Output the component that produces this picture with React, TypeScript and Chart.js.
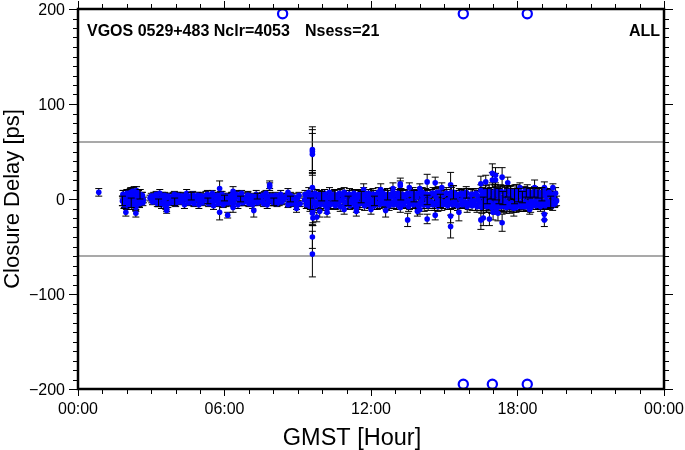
import React, { useEffect, useRef } from "react";
import { Chart, registerables } from "chart.js";

Chart.register(...registerables);

const FONT = "'Liberation Sans', Arial, sans-serif";

const bandHours = [
  1.82,1.86,1.9,1.94,1.98,2.02,2.06,2.1,2.14,2.18,2.22,2.26,2.3,2.34,2.38,2.42,2.46,2.5,2.54,2.58,2.62,2.68,
  2.95,3.02,3.1,3.18,3.24,3.3,3.38,3.46,3.52,3.6,3.68,3.74,3.82,3.9,3.96,4.04,4.12,4.2,4.26,4.34,4.42,4.5,4.56,4.64,4.72,4.8,4.86,4.94,5.02,5.1,5.16,5.24,5.32,5.4,5.46,5.54,5.62,5.7,5.76,5.84,5.92,6.0,6.06,6.14,6.22,6.3,6.36,6.44,6.52,6.6,6.66,6.74,6.82,6.9,6.96,7.04,7.12,7.2,7.26,7.34,7.42,7.5,7.56,7.64,7.72,7.8,7.86,7.94,8.02,8.1,8.16,8.24,8.32,8.4,8.46,8.54,8.62,8.7,8.76,8.84,8.92,9.0,
  9.28,9.34,9.4,9.46,9.52,9.58,9.62,9.66,9.7,9.76,9.82,9.88,9.92,9.98,10.04,10.1,10.16,10.22,10.28,10.34,10.4,10.46,10.52,10.58,10.64,10.7,10.76,10.82,10.88,10.94,11.0,11.06,11.12,11.18,11.24,11.3,11.36,11.42,11.48,11.54,11.6,11.66,11.72,11.78,11.84,11.9,11.96,12.02,12.08,12.14,12.2,12.26,12.32,12.38,12.44,12.5,12.56,12.62,12.68,12.74,12.8,12.86,12.92,12.98,13.04,13.1,13.16,13.22,13.28,13.34,13.4,13.46,13.52,13.58,13.64,13.7,13.76,13.82,13.88,13.94,14.0,14.06,14.12,14.18,14.24,14.3,14.36,14.42,14.48,14.54,14.6,14.66,14.72,14.78,14.84,14.9,14.96,15.02,15.08,15.14,15.2,15.26,15.32,15.38,15.44,15.5,15.56,15.62,15.68,15.74,15.8,15.86,15.92,15.98,16.04,16.1,16.16,16.22,16.28,16.34,16.4,16.46,16.52,16.56,16.6,16.64,16.68,16.72,16.76,16.8,16.84,16.88,16.92,16.96,17.0,17.04,17.08,17.12,17.16,17.2,17.24,17.28,17.32,17.36,17.4,17.44,17.48,17.52,17.56,17.6,17.64,17.68,17.72,17.76,17.8,17.84,17.88,17.92,17.96,18.0,18.04,18.08,18.12,18.16,18.2,18.24,18.28,18.32,18.36,18.4,18.44,18.48,18.52,18.56,18.6,18.64,18.68,18.72,18.76,18.8,18.84,18.88,18.92,18.96,19.0,19.04,19.08,19.12,19.16,19.2,19.24,19.28,19.32,19.36,19.4,19.44,19.48,19.52,19.56,19.6
];

const bandDelays = [
  -2,3,-4,1,-5,4,-3,2,5,-4,1,-5,6,-2,4,-4,3,-3,5,-2,3,-1,
  1,-1,3,-2,1,-4,0,3,-3,1,-5,2,-1,3,-3,1,-1,3,-2,0,2,-2,1,3,-3,0,2,-1,3,-2,1,4,-2,0,2,-3,3,-1,1,4,-2,1,-4,2,-1,3,-2,1,4,-3,0,2,-3,1,4,-1,2,-3,1,3,-2,2,-3,4,1,-2,3,-1,-3,2,0,-3,2,-1,1,3,-4,0,-2,2,-3,1,
  -1,2,-4,1,-5,4,-3,2,-4,5,-3,1,-5,3,-1,4,-3,2,-5,1,3,-2,4,-4,1,-3,5,-1,2,-4,3,-2,5,-3,1,-4,3,-1,4,-5,2,-2,4,-1,-4,3,0,-3,5,-2,2,-5,3,-1,4,-3,1,-5,5,-2,2,-4,4,-1,-5,3,-2,5,-4,1,-3,4,-2,-5,5,-1,3,-4,2,-5,6,-2,3,-6,5,-1,-4,4,-3,6,-5,2,-3,7,-2,-6,4,-3,6,-1,-5,3,-4,7,-3,2,-6,5,-1,-4,3,-3,6,-5,1,-3,5,-2,-6,4,-1,-4,3,6,-5,-2,
  5,-7,3,-5,8,-3,6,-8,2,-6,7,-2,5,-8,3,-6,9,-4,1,-7,6,-3,8,-5,2,-8,7,-4,5,-7,3,-6,8,-2,4,-7,6,-4,2,-8,5,-3,7,-6,3,-5,6,-2,4,-6,7,-3,2,-5,6,-4,1,-6,5,-3,7,-5,3,-2,6,-6,4,-3,5,-7,2,-4,6,-2,5,-5,3,-1,-5,4,-3,3,-2,5,-4,1,4,-3,1,-2,3
];

const bandErrors = [
  5,6,5,4,6,5,5,4,6,5,4,6,7,5,6,5,4,5,5,4,4,3,
  3,3,4,3,3,4,3,4,3,3,4,4,3,4,4,3,3,4,3,3,4,3,3,4,4,3,3,3,4,3,3,4,3,3,3,4,4,3,3,4,4,3,4,4,3,4,3,3,4,4,3,4,4,3,4,3,3,4,3,3,3,4,3,4,3,3,4,4,4,3,3,4,3,4,3,3,4,3,3,4,4,3,
  4,4,5,5,6,7,7,6,6,5,6,5,6,5,5,6,5,4,6,5,5,5,6,6,5,5,6,5,4,6,6,5,6,6,5,6,6,5,6,6,6,5,6,5,5,5,4,5,6,5,5,6,6,5,5,5,4,6,6,5,5,6,6,5,6,5,5,6,6,5,6,6,5,6,5,6,6,5,5,6,6,5,6,7,6,5,6,6,5,6,7,6,5,6,7,6,6,5,6,5,6,5,6,7,6,5,6,6,6,5,6,5,5,6,6,5,6,5,6,5,5,6,7,6,
  7,8,6,7,8,7,7,8,6,7,8,7,8,8,7,7,8,7,6,8,7,7,8,7,6,8,8,7,7,7,6,7,8,6,7,7,7,6,5,7,6,5,7,7,5,6,6,5,5,6,7,5,5,5,7,6,5,6,6,5,7,6,5,5,6,6,5,5,6,6,6,5,6,5,6,5,4,6,5,4,5,5,4,5,5,4,4,4,3,3,3
];

const upperHours = [1.84,2.0,2.16,2.32,2.48,2.64,3.0,3.2,3.35,3.55,3.7,3.95,4.1,4.3,4.45,4.7,4.9,5.05,5.3,5.5,5.7,5.9,6.1,6.3,6.5,6.7,6.95,7.1,7.3,7.55,7.7,7.95,8.1,8.3,8.55,8.7,9.05,9.3,9.45,9.7,9.9,10.1,10.3,10.5,10.7,10.9,11.1,11.3,11.5,11.7,11.9,12.1,12.3,12.5,12.7,12.9,13.1,13.3,13.5,13.7,13.9,14.1,14.3,14.5,14.7,14.9,15.1,15.3,15.5,15.7,15.9,16.1,16.3,16.5,16.7,16.9,17.1,17.3,17.5,17.7,17.9,18.1,18.3,18.5,18.7,18.9,19.1,19.3,19.5];
const upperDelays = [5,6,7,6,5,4,3,5,6,4,3,5,4,3,6,5,4,3,5,6,4,5,3,4,5,6,4,3,5,4,6,3,4,5,3,4,4,5,7,6,5,6,7,5,6,7,5,6,5,7,6,5,7,6,5,7,6,5,6,7,6,7,5,6,7,5,6,7,5,6,7,5,6,9,8,7,9,8,7,8,9,7,8,7,8,7,6,7,5];
const upperErrors = [4,4,5,4,4,3,3,3,4,3,3,3,3,3,4,3,3,3,4,3,3,3,3,3,4,3,3,3,4,3,3,3,3,4,3,3,3,4,5,4,4,4,5,4,4,5,4,4,4,5,4,4,5,4,4,5,4,4,4,5,4,5,4,4,5,4,4,5,4,4,6,5,5,6,6,5,6,6,5,5,6,5,5,5,5,5,4,4,3];

const lowerHours = [1.88,2.04,2.2,2.36,2.52,2.66,3.05,3.25,3.42,3.6,3.8,4.0,4.18,4.36,4.55,4.75,4.95,5.12,5.35,5.55,5.75,5.95,6.18,6.35,6.55,6.75,7.0,7.15,7.35,7.6,7.75,8.0,8.15,8.35,8.6,8.75,9.1,9.35,9.5,9.74,9.94,10.14,10.34,10.54,10.74,10.94,11.14,11.34,11.54,11.74,11.94,12.14,12.34,12.54,12.74,12.94,13.14,13.34,13.54,13.74,13.94,14.14,14.34,14.54,14.74,14.94,15.14,15.34,15.54,15.74,15.94,16.14,16.34,16.54,16.74,16.94,17.14,17.34,17.54,17.74,17.94,18.14,18.34,18.54,18.74,18.94,19.14,19.34,19.54];
const lowerDelays = [-6,-7,-6,-7,-5,-4,-3,-5,-6,-7,-4,-5,-3,-6,-4,-5,-6,-4,-5,-7,-5,-6,-4,-5,-6,-4,-5,-6,-4,-5,-6,-4,-5,-3,-6,-5,-5,-6,-8,-7,-6,-7,-6,-7,-8,-6,-7,-6,-5,-7,-6,-7,-6,-5,-7,-6,-7,-6,-8,-6,-7,-6,-7,-6,-8,-6,-7,-6,-7,-6,-8,-7,-8,-9,-8,-9,-10,-8,-9,-8,-9,-8,-8,-9,-7,-8,-7,-6,-5];
const lowerErrors = [4,4,5,5,4,3,3,3,4,4,3,3,3,4,3,3,4,3,3,4,3,3,3,3,4,3,3,4,3,3,4,3,3,3,3,3,3,4,5,5,4,5,4,4,5,4,4,4,4,5,4,4,4,4,5,4,4,4,5,4,4,4,5,4,5,4,4,4,5,4,6,5,6,6,6,6,6,5,6,5,5,5,5,5,4,5,4,4,3];

const wideHours = [0.85,1.96,2.37,2.37,2.4,2.25,3.63,3.63,5.8,5.8,6.13,6.35,6.35,7.85,7.85,8.6,8.95,8.95,7.2,9.6,9.6,9.6,9.6,9.6,9.6,9.6,9.62,9.62,9.78,9.9,10.2,10.2,10.9,11.4,11.4,12.0,12.4,12.6,13.2,13.2,13.2,13.5,13.57,14.0,14.0,14.3,14.3,14.63,14.63,14.9,15.26,15.26,15.26,15.6,16.5,16.5,16.7,16.6,16.85,16.97,16.97,17.0,17.1,17.1,17.2,17.37,17.37,17.6,17.85,18.1,18.4,18.5,18.7,19.1,19.1,19.1,19.45,11.7,12.9,13.9];
const wideDelays = [7,-14,-15,-9,9,8,-12,-10,11,-14,-17,8,-9,15,13,7,-10,-7,-12,52,50,47,12,-40,-58,-15,-12,-20,-19,-13,-14,-10,-11,-13,-9,-11,10,-12,16,14,-9,-22,12,11,-11,18,-21,17,-17,12,15,-29,-18,-14,16,-22,18,-20,-21,27,20,-14,25,20,-15,23,-25,17,-10,12,10,-11,12,12,-16,-22,12,10,11,-13];
const wideErrors = [4,4,4,4,4,4,3,3,8,8,3,5,5,4,4,4,4,4,7,24,23,22,18,12,24,12,13,8,5,6,5,5,5,5,5,5,6,7,6,5,5,7,5,5,5,8,5,6,5,5,13,12,7,9,8,10,7,8,7,10,8,8,8,7,8,10,9,6,8,5,5,5,8,6,6,7,4,6,6,5];

const outlierHours = [8.38,15.78,18.4,15.78,16.97,18.4];
const outlierDelays = [195,195,195,-195,-195,-195];

const limitDelays = [60,-60];
const xMajor = [0,6,12,18,24];
const yMajor = [200,100,0,-100,-200];
const tickHours = [1,2,3,4,5,7,8,9,10,11,13,14,15,16,17,19,20,21,22,23];
const tickDelays = [190,180,170,160,150,140,130,120,110,90,80,70,60,50,40,30,20,10,-10,-20,-30,-40,-50,-60,-70,-80,-90,-110,-120,-130,-140,-150,-160,-170,-180,-190];

const hourLabel = (v: number) => String(v % 24).padStart(2, "0") + ":00";

const mkPts = (xs: number[], ys: number[]) => xs.map((x, i) => ({ x, y: ys[i] }));

const drawBars = (chart: any, xs: number[], ys: number[], es: number[], keep: (h: number, i: number) => boolean) => {
  const { ctx, scales } = chart;
  const x = scales.x, y = scales.y;
  xs.forEach((h, i) => {
    if (!keep(h, i)) return;
    const px = x.getPixelForValue(h);
    const top = y.getPixelForValue(ys[i] + es[i]);
    const bot = y.getPixelForValue(ys[i] - es[i]);
    ctx.beginPath();
    ctx.moveTo(px, top); ctx.lineTo(px, bot);
    ctx.moveTo(px - 3.5, top); ctx.lineTo(px + 3.5, top);
    ctx.moveTo(px - 3.5, bot); ctx.lineTo(px + 3.5, bot);
    ctx.stroke();
  });
};

const errorPlugin = {
  id: "marks",
  beforeDatasetsDraw(chart: any) {
    const { ctx } = chart;
    ctx.save();
    ctx.strokeStyle = "#000";
    ctx.lineWidth = 1;
    const all = () => true;
    drawBars(chart, bandHours, bandDelays, bandErrors, all);
    drawBars(chart, upperHours, upperDelays, upperErrors, all);
    drawBars(chart, lowerHours, lowerDelays, lowerErrors, all);
    drawBars(chart, wideHours, wideDelays, wideErrors, all);
    ctx.restore();
  },
  afterDatasetsDraw(chart: any) {
    const { ctx } = chart;
    ctx.save();
    ctx.strokeStyle = "#000";
    ctx.lineWidth = 1;
    drawBars(chart, bandHours, bandDelays, bandErrors, (h, i) => (h > 16.4 && h < 19 ? i % 4 === 0 : i % 9 === 0));
    ctx.restore();
  },
  afterDraw(chart: any) {
    const { ctx, scales, chartArea: a } = chart;
    const x = scales.x, y = scales.y;
    ctx.save();
    ctx.strokeStyle = "#000";
    ctx.lineWidth = 1;
    ctx.beginPath();
    tickHours.forEach((h) => {
      const p = Math.round(x.getPixelForValue(h)) + 0.5;
      ctx.moveTo(p, a.bottom); ctx.lineTo(p, a.bottom + 5);
      ctx.moveTo(p, a.top); ctx.lineTo(p, a.top - 5);
    });
    tickDelays.forEach((d) => {
      const p = Math.round(y.getPixelForValue(d)) + 0.5;
      ctx.moveTo(a.left, p); ctx.lineTo(a.left - 5, p);
      ctx.moveTo(a.right, p); ctx.lineTo(a.right + 5, p);
    });
    ctx.stroke();
    ctx.lineWidth = 2.5;
    ctx.strokeRect(a.left, a.top, a.right - a.left, a.bottom - a.top);
    ctx.fillStyle = "#000";
    ctx.font = `bold 16px ${FONT}`;
    ctx.textBaseline = "alphabetic";
    ctx.textAlign = "left";
    ctx.fillText("VGOS 0529+483 Nclr=4053", 87, 36);
    ctx.fillText("Nsess=21", 305, 36);
    ctx.textAlign = "right";
    ctx.fillText("ALL", 660, 36);
    ctx.font = `23.5px ${FONT}`;
    ctx.textAlign = "center";
    ctx.fillText("GMST [Hour]", 352, 445);
    ctx.restore();
  },
};

export default function App() {
  const ref = useRef<HTMLCanvasElement>(null);
  useEffect(() => {
    document.body.style.margin = "0";
    const limitSet = (d: number) => ({
      type: "line" as const,
      data: [{ x: 0, y: d }, { x: 24, y: d }],
      borderColor: "#555",
      borderWidth: 1.2,
      pointRadius: 0,
      order: 5,
    });
    const blue = (xs: number[], ys: number[]) => ({
      data: mkPts(xs, ys),
      backgroundColor: "#0000ff",
      borderWidth: 0,
      pointRadius: 2.8,
      order: 1,
    });
    const chart = new Chart(ref.current!, {
      type: "scatter",
      data: {
        datasets: [
          limitSet(limitDelays[0]),
          limitSet(limitDelays[1]),
          blue(bandHours, bandDelays),
          blue(upperHours, upperDelays),
          blue(lowerHours, lowerDelays),
          blue(wideHours, wideDelays),
          { data: mkPts(outlierHours, outlierDelays), backgroundColor: "rgba(0,0,0,0)", borderColor: "#0000ff", borderWidth: 2.2, pointRadius: 4.6, order: 0, clip: false },
        ] as any,
      },
      options: {
        animation: false,
        responsive: false,
        devicePixelRatio: 1,
        layout: { padding: 0 },
        plugins: { legend: { display: false }, tooltip: { enabled: false } },
        scales: {
          x: {
            type: "linear",
            min: 0,
            max: 24,
            afterBuildTicks: (s: any) => { s.ticks = xMajor.map((value) => ({ value })); },
            afterFit: (s: any) => { s.height = 61; s.paddingLeft = 0; s.paddingRight = 0; },
            ticks: { color: "#000", font: { family: FONT, size: 16 }, padding: 4, maxRotation: 0, autoSkip: false, callback: (v: any) => hourLabel(Number(v)) },
            grid: { drawOnChartArea: false, tickLength: 7, color: "#000", tickWidth: 1 },
            border: { display: false },
          },
          y: {
            type: "linear",
            min: -200,
            max: 200,
            afterBuildTicks: (s: any) => { s.ticks = yMajor.map((value) => ({ value })); },
            afterFit: (s: any) => { s.width = 78; s.paddingTop = 0; s.paddingBottom = 0; },
            ticks: { color: "#000", font: { family: FONT, size: 16, lineHeight: 0.25 }, padding: 4, autoSkip: false, callback: (v: any) => ["", String(v).replace("-", "\u2212")] },
            grid: { drawOnChartArea: false, tickLength: 9, color: "#000", tickWidth: 1 },
            border: { display: false },
            title: { display: true, text: "Closure Delay [ps]", color: "#000", font: { family: FONT, size: 22 }, padding: { top: 0, bottom: 0 } },
          },
          x2: {
            type: "linear",
            position: "top",
            min: 0,
            max: 24,
            afterBuildTicks: (s: any) => { s.ticks = xMajor.map((value) => ({ value })); },
            afterFit: (s: any) => { s.height = 9; s.paddingLeft = 0; s.paddingRight = 0; },
            ticks: { display: false },
            grid: { drawOnChartArea: false, tickLength: 8, color: "#000", tickWidth: 1 },
            border: { display: false },
          },
          y2: {
            type: "linear",
            position: "right",
            min: -200,
            max: 200,
            afterBuildTicks: (s: any) => { s.ticks = yMajor.map((value) => ({ value })); },
            afterFit: (s: any) => { s.width = 21; s.paddingTop = 0; s.paddingBottom = 0; },
            ticks: { display: false },
            grid: { drawOnChartArea: false, tickLength: 9, color: "#000", tickWidth: 1 },
            border: { display: false },
          },
        },
      } as any,
      plugins: [errorPlugin],
    });
    return () => chart.destroy();
  }, []);
  return <canvas ref={ref} width={685} height={450} style={{ display: "block" }} />;
}
